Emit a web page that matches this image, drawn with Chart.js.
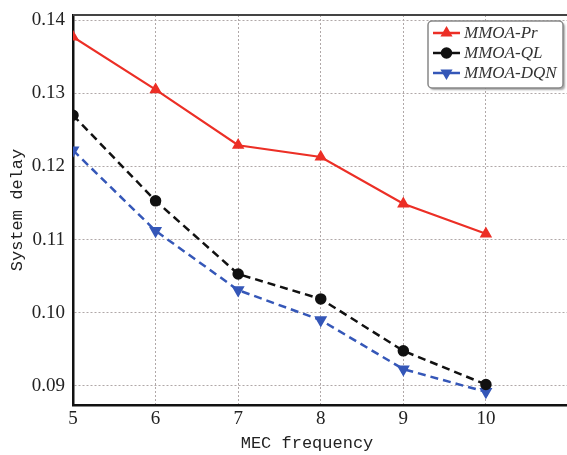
<!DOCTYPE html>
<html>
<head>
<meta charset="utf-8">
<script src="https://cdn.jsdelivr.net/npm/chart.js@4/dist/chart.umd.min.js"></script>
<style>
  html, body { margin: 0; padding: 0; background: #fff; overflow: hidden; }
  #wrap { width: 567px; height: 455px; overflow: hidden; }
</style>
</head>
<body>
<div id="wrap"><canvas id="myChart" width="576" height="455"></canvas></div>
<script>
// datos
const frequencies = [5, 6, 7, 8, 9, 10];
const delayPr = [0.1377, 0.1305, 0.1229, 0.1213, 0.1149, 0.1108];
const delayQL = [0.1270, 0.1153, 0.1053, 0.1019, 0.0948, 0.0902];
const delayDQN = [0.1222, 0.1112, 0.1031, 0.0990, 0.0923, 0.0892];
const yTicks = [0.09, 0.10, 0.11, 0.12, 0.13, 0.14];

const toPoints = vals => vals.map((v, i) => ({ x: frequencies[i], y: v }));

// titulos y leyenda dibujados a mano
const extras = {
    id: 'extras',
    afterDraw(chart) {
        const c = chart.ctx;
        const a = chart.chartArea;
        c.save();
        // borde superior
        c.strokeStyle = '#444';
        c.lineWidth = 2;
        c.beginPath();
        c.moveTo(a.left, a.top);
        c.lineTo(chart.width, a.top);
        c.stroke();

        c.fillStyle = '#222';
        c.font = '17px "Liberation Mono"';
        c.textAlign = 'center';
        c.textBaseline = 'middle';
        c.fillText('MEC frequency', 307, 443);
        c.translate(17, 210);
        c.rotate(-Math.PI / 2);
        c.fillText('System delay', 0, 0);
        c.restore();

        // leyenda
        c.save();
        const bx = 428, by = 21, bw = 135, bh = 67;
        c.shadowColor = 'rgba(0,0,0,0.35)';
        c.shadowOffsetX = 2;
        c.shadowOffsetY = 2;
        c.shadowBlur = 2;
        c.fillStyle = '#fff';
        c.beginPath();
        c.roundRect(bx, by, bw, bh, 4);
        c.fill();
        c.shadowColor = 'transparent';
        c.strokeStyle = '#888';
        c.lineWidth = 1.5;
        c.stroke();
        const rows = [33, 53, 73];
        chart.data.datasets.forEach((ds, i) => {
            const y = rows[i];
            c.strokeStyle = ds.borderColor;
            c.fillStyle = ds.backgroundColor;
            c.lineWidth = 2.5;
            c.setLineDash([]);
            c.beginPath();
            c.moveTo(433, y);
            c.lineTo(460, y);
            c.stroke();
            Chart.helpers.drawPoint(c, {
                pointStyle: ds.pointStyle,
                radius: 4.5,
                rotation: ds.pointRotation || 0,
                borderWidth: 1
            }, 446.5, y);
            c.fillStyle = '#333';
            c.font = 'italic 17px "Liberation Serif"';
            c.textAlign = 'left';
            c.textBaseline = 'middle';
            c.fillText(ds.label, 464, y + 1);
        });
        c.restore();
    }
};

Chart.defaults.font.family = '"Liberation Serif"';

const ctx = document.getElementById('myChart');

new Chart(ctx, {
    type: 'line',
    data: {
        datasets: [{
            label: 'MMOA-Pr',
            data: toPoints(delayPr),
            borderColor: '#ec2f26',
            backgroundColor: '#ec2f26',
            pointStyle: 'triangle',
            pointRadius: 5,
            borderWidth: 2.2
        }, {
            label: 'MMOA-QL',
            data: toPoints(delayQL),
            borderColor: '#111',
            backgroundColor: '#111',
            pointStyle: 'circle',
            pointRadius: 4.5,
            borderDash: [8, 5],
            borderWidth: 2.5
        }, {
            label: 'MMOA-DQN',
            data: toPoints(delayDQN),
            borderColor: '#3557b8',
            backgroundColor: '#3557b8',
            pointStyle: 'triangle',
            pointRotation: 180,
            pointRadius: 5,
            borderDash: [8, 5],
            borderWidth: 2.5
        }]
    },
    options: {
        responsive: false,
        animation: false,
        layout: { padding: { top: 15, right: 0, left: 0, bottom: 0 } },
        plugins: {
            legend: { display: false },
            tooltip: { enabled: false }
        },
        scales: {
            x: {
                type: 'linear',
                min: 5,
                max: 11,
                afterBuildTicks: scale => {
                    scale.ticks = frequencies.map(v => ({ value: v }));
                },
                afterFit: scale => {
                    scale.height = 50;
                },
                ticks: {
                    color: '#222',
                    font: { size: 19 },
                    padding: 3
                },
                grid: {
                    color: '#b0a8a8',
                    lineWidth: 1,
                    drawTicks: false
                },
                border: { color: '#111', width: 2.5, dash: [2, 2] }
            },
            y: {
                min: 0.0874,
                max: 0.1407,
                afterBuildTicks: scale => {
                    scale.ticks = yTicks.map(v => ({ value: v }));
                },
                afterFit: scale => {
                    scale.width = 73;
                    scale.paddingTop = 0;
                    scale.paddingBottom = 0;
                },
                ticks: {
                    color: '#222',
                    font: { size: 19 },
                    padding: 8,
                    callback: v => v.toFixed(2)
                },
                grid: {
                    color: '#b0a8a8',
                    lineWidth: 1,
                    drawTicks: false
                },
                border: { color: '#111', width: 2.5, dash: [2, 2] }
            }
        }
    },
    plugins: [extras]
});
</script>
</body>
</html>
